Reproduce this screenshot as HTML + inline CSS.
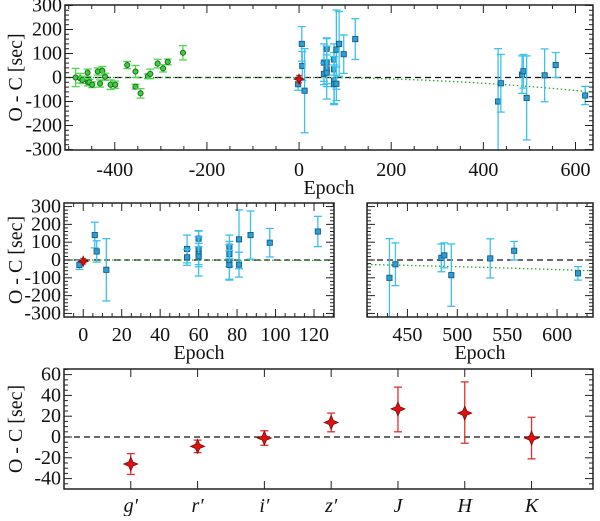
<!DOCTYPE html>
<html><head><meta charset="utf-8">
<style>
html,body{margin:0;padding:0;background:#fff;font-family:"Liberation Serif","Times New Roman",Times,serif;}
text{font-family:"Liberation Serif","Times New Roman",Times,serif !important;}
</style></head>
<body>
<svg id="chart" width="600" height="516" viewBox="0 0 600 516" xmlns="http://www.w3.org/2000/svg" style="font-family:'Liberation Serif','Times New Roman',Times,serif"></svg>
<script>
// ---- data ----
const greenEpoch = [-485,-475,-470,-459,-458,-455,-449,-437,-432,-427,-421,-409,-399,-373,-355,-355,-344,-328,-323,-307,-295,-285,-252];
const greenValue = [0,-3,-10,20,-20,-20,-30,25,-25,28,3,-30,-30,52,25,-38,-66,5,15,58,38,65,103];
const greenError = [38,20,15,15,15,12,12,15,15,18,15,20,15,15,25,10,20,10,20,18,15,12,30];

const blueEpoch = [-2,6,7,12,54,54,60,60,60,60,76,76,76,76,81,81,87,97,122,432,438,484,487,494,533,557,621];
const blueValue = [-28,140,48,-55,62,15,62,120,34,20,75,34,-13,-28,116,-26,140,97,160,-100,-24,12,26,-85,9,52,-75];
const blueError = [25,72,60,175,78,45,100,45,60,110,65,70,100,80,165,70,135,80,85,220,120,78,70,175,110,52,38];

const redEpoch = [0];
const redValue = [-7];
const redError = [15];

const fitCoef = [0, 0, -0.00015];

const bandNames = ["g′","r′","i′","z′","J","H","K"];
const bandValue = [-26,-9,-1,14,27,23,-1];
const bandErrUp = [10,6,7,9,21,30,20];
const bandErrDn = [10,6,7,9,22,29,20];

// ---- drawing ----
const NS = "http://www.w3.org/2000/svg";
const svg = document.getElementById("chart");
function el(tag, attrs, parent){
  const e = document.createElementNS(NS, tag);
  for (const k in attrs) e.setAttribute(k, attrs[k]);
  if (tag === "text") e.setAttribute("style", "font-family:'Liberation Serif','Times New Roman',Times,serif");
  (parent||svg).appendChild(e);
  return e;
}
function makeScale(d0,d1,r0,r1){ return v => r0 + (v-d0)/(d1-d0)*(r1-r0); }

function panel(name, box, xd, yd, opts){
  const g = el("g", {});
  
  
  const X = makeScale(xd[0], xd[1], box.x0, box.x1);
  const Y = makeScale(yd[0], yd[1], box.y1, box.y0);
  const cid = name + "-clip";
  const cp = el("clipPath", {id: cid}, g);
  el("rect", {x: box.x0, y: box.y0, width: box.x1-box.x0, height: box.y1-box.y0}, cp);
  const plot = el("g", {"clip-path": "url(#"+cid+")"}, g);
  
  
  const fr = el("rect", {x: box.x0, y: box.y0, width: box.x1-box.x0, height: box.y1-box.y0, fill: "none", stroke: "#222", "stroke-width": 1.5}, g);
  
  
  const ticks = el("g", {stroke: "#222", "stroke-width": 1}, g);
  
  
  if (opts.xMinor) {
    for (let v = Math.ceil(xd[0]/opts.xMinor)*opts.xMinor; v <= xd[1]; v += opts.xMinor) {
      const major = Math.abs(v/opts.xMajor - Math.round(v/opts.xMajor)) < 1e-6;
      const L = major ? 8 : 4; const x = X(v);
      el("line", {x1:x, x2:x, y1:box.y1, y2:box.y1-L}, ticks);
      el("line", {x1:x, x2:x, y1:box.y0, y2:box.y0+L}, ticks);
    }
  }
  for (let v = Math.ceil(yd[0]/opts.yMinor)*opts.yMinor; v <= yd[1]; v += opts.yMinor) {
    const major = Math.abs(v/opts.yMajor - Math.round(v/opts.yMajor)) < 1e-6;
    const L = major ? 8 : 4; const y = Y(v);
    el("line", {x1:box.x0, x2:box.x0+L, y1:y, y2:y}, ticks);
    el("line", {x1:box.x1, x2:box.x1-L, y1:y, y2:y}, ticks);
  }
  if (opts.yLabels) {
    for (const v of opts.yLabels) {
      const t = el("text", {x: box.x0-3, y: Y(v)+6, "text-anchor":"end", "font-size": 20, fill:"#111"}, g);
      t.textContent = v;
      
      
    }
  }
  if (opts.xLabels) {
    for (const v of opts.xLabels) {
      const t = el("text", {x: X(v), y: opts.xLabelY, "text-anchor":"middle", "font-size": 20, fill:"#111"}, g);
      t.textContent = v;
      
      
    }
  }
  if (opts.xTitle) {
    const t = el("text", {x: (box.x0+box.x1)/2, y: opts.xTitleY, "text-anchor":"middle", "font-size": 20, fill:"#111"}, g);
    t.textContent = opts.xTitle;
    
    
  }
  if (opts.yTitle) {
    const cy = (box.y0+box.y1)/2;
    const t = el("text", {x: 22, y: cy, transform: "rotate(-90 22 "+cy+")", "text-anchor":"middle", "font-size": 20, fill:"#111"}, g);
    t.textContent = opts.yTitle;
    
    
  }
  return {g, plot, X, Y, box};
}

function zeroLine(p){
  const l = el("line", {x1:p.box.x0, x2:p.box.x1, y1:p.Y(0), y2:p.Y(0), stroke:"#111", "stroke-width":1.3, "stroke-dasharray":"6,4"}, p.plot);
  
  
}
function fitLine(p, xd){
  let d = "";
  const n = 80;
  const start = Math.max(0, xd[0]);
  if (xd[0] < 0) d += "M" + p.X(xd[0]) + "," + p.Y(fitCoef[0]) + " L" + p.X(0) + "," + p.Y(fitCoef[0]) + " ";
  for (let i = 0; i <= n; i++) {
    const e = start + (xd[1]-start)*i/n;
    const v = fitCoef[0] + fitCoef[1]*e + fitCoef[2]*e*e;
    d += (i===0 && xd[0] >= 0 ? "M" : "L") + p.X(e).toFixed(2) + "," + p.Y(v).toFixed(2) + " ";
  }
  const l = el("path", {d, fill:"none", stroke:"#2aa52a", "stroke-width":1.3, "stroke-dasharray":"1.5,2.5"}, p.plot);
  
  
}
function errBar(p, x, v, up, dn, color, cap){
  const X = p.X(x), y1 = p.Y(v+up), y2 = p.Y(v-dn);
  const g = el("g", {stroke: color, "stroke-width": 1.3}, p.plot);
  el("line", {x1:X, x2:X, y1:y1, y2:y2}, g);
  el("line", {x1:X-cap, x2:X+cap, y1:y1, y2:y1}, g);
  el("line", {x1:X-cap, x2:X+cap, y1:y2, y2:y2}, g);
  return g;
}
function greenSeries(p){
  for (let i=0;i<greenEpoch.length;i++){
    const eb = errBar(p, greenEpoch[i], greenValue[i], greenError[i], greenError[i], "#4fd84f", 4);
    
    
    const c = el("circle", {cx:p.X(greenEpoch[i]), cy:p.Y(greenValue[i]), r:2.6, fill:"#3ccf3c", stroke:"#1f5f1f", "stroke-width":0.9}, p.plot);
    
    
  }
}
function blueSeries(p){
  for (let i=0;i<blueEpoch.length;i++){
    const eb = errBar(p, blueEpoch[i], blueValue[i], blueError[i], blueError[i], "#3cc0ee", 4);
    
    
    const x = p.X(blueEpoch[i]), y = p.Y(blueValue[i]);
    const r = el("rect", {x:x-2.6, y:y-2.6, width:5.2, height:5.2, fill:"#2aa0d8", stroke:"#1a5a80", "stroke-width":0.9}, p.plot);
    
    
  }
}
function star(p, x, y, s){
  const pts = [[0,-s],[s*0.3,-s*0.3],[s,0],[s*0.3,s*0.3],[0,s],[-s*0.3,s*0.3],[-s,0],[-s*0.3,-s*0.3]]
    .map(q => (x+q[0]).toFixed(2)+","+(y+q[1]).toFixed(2)).join(" ");
  return el("polygon", {points: pts, fill:"#e01010", stroke:"#7a0a0a", "stroke-width":0.8}, p.plot);
}
function redSeries(p){
  for (let i=0;i<redEpoch.length;i++){
    const eb = errBar(p, redEpoch[i], redValue[i], redError[i], redError[i], "#e03030", 3);
    
    
    const s = star(p, p.X(redEpoch[i]), p.Y(redValue[i]), 5);
    
    
  }
}

const topXD = [-508, 638];
const pTop = panel("top-panel", {x0:65, x1:593, y0:5, y1:150}, topXD, [-302, 302],
  {xMinor:50, xMajor:200, yMinor:20, yMajor:100, yLabels:[300,200,100,0,-100,-200,-300],
   xLabels:[-400,-200,0,200,400,600], xLabelY:176, xTitle:"Epoch", xTitleY:194, yTitle:"O - C [sec]"});
zeroLine(pTop); fitLine(pTop, topXD); greenSeries(pTop); blueSeries(pTop); redSeries(pTop);

const mlXD = [-10, 130.4];
const pML = panel("middle-left-panel", {x0:64, x1:334, y0:203, y1:317}, mlXD, [-320, 320],
  {xMinor:5, xMajor:20, yMinor:20, yMajor:100, yLabels:[300,200,100,0,-100,-200,-300],
   xLabels:[0,20,40,60,80,100,120], xLabelY:341, xTitle:"Epoch", xTitleY:359, yTitle:"O - C [sec]"});
zeroLine(pML); fitLine(pML, mlXD); blueSeries(pML); redSeries(pML);

const mrXD = [409.5, 636];
const pMR = panel("middle-right-panel", {x0:367, x1:593, y0:203, y1:317}, mrXD, [-320, 320],
  {xMinor:10, xMajor:50, yMinor:20, yMajor:100,
   xLabels:[450,500,550,600], xLabelY:341, xTitle:"Epoch", xTitleY:359});
zeroLine(pMR); fitLine(pMR, mrXD); blueSeries(pMR);

const pB = panel("bottom-panel", {x0:64, x1:593, y0:369, y1:489}, [0, 7.92], [-50, 65.4],
  {yMinor:5, yMajor:20, yLabels:[60,40,20,0,-20,-40], yTitle:"O - C [sec]"});
zeroLine(pB);
for (let i=0;i<bandNames.length;i++){
  const x = pB.X(i+1);
  const tk = el("g", {stroke:"#222","stroke-width":1}, pB.g);
  el("line", {x1:x,x2:x,y1:489,y2:481}, tk);
  el("line", {x1:x,x2:x,y1:369,y2:377}, tk);
  
  
  const t = el("text", {x:x, y:512, "text-anchor":"middle", "font-size":20, "font-style":"italic", fill:"#111"}, pB.g);
  t.textContent = bandNames[i];
  
  
  const eb = errBar(pB, i+1, bandValue[i], bandErrUp[i], bandErrDn[i], "#e03030", 4);
  
  
  const s = star(pB, x, pB.Y(bandValue[i]), 7);
  
  
}
</script>
</body></html>
